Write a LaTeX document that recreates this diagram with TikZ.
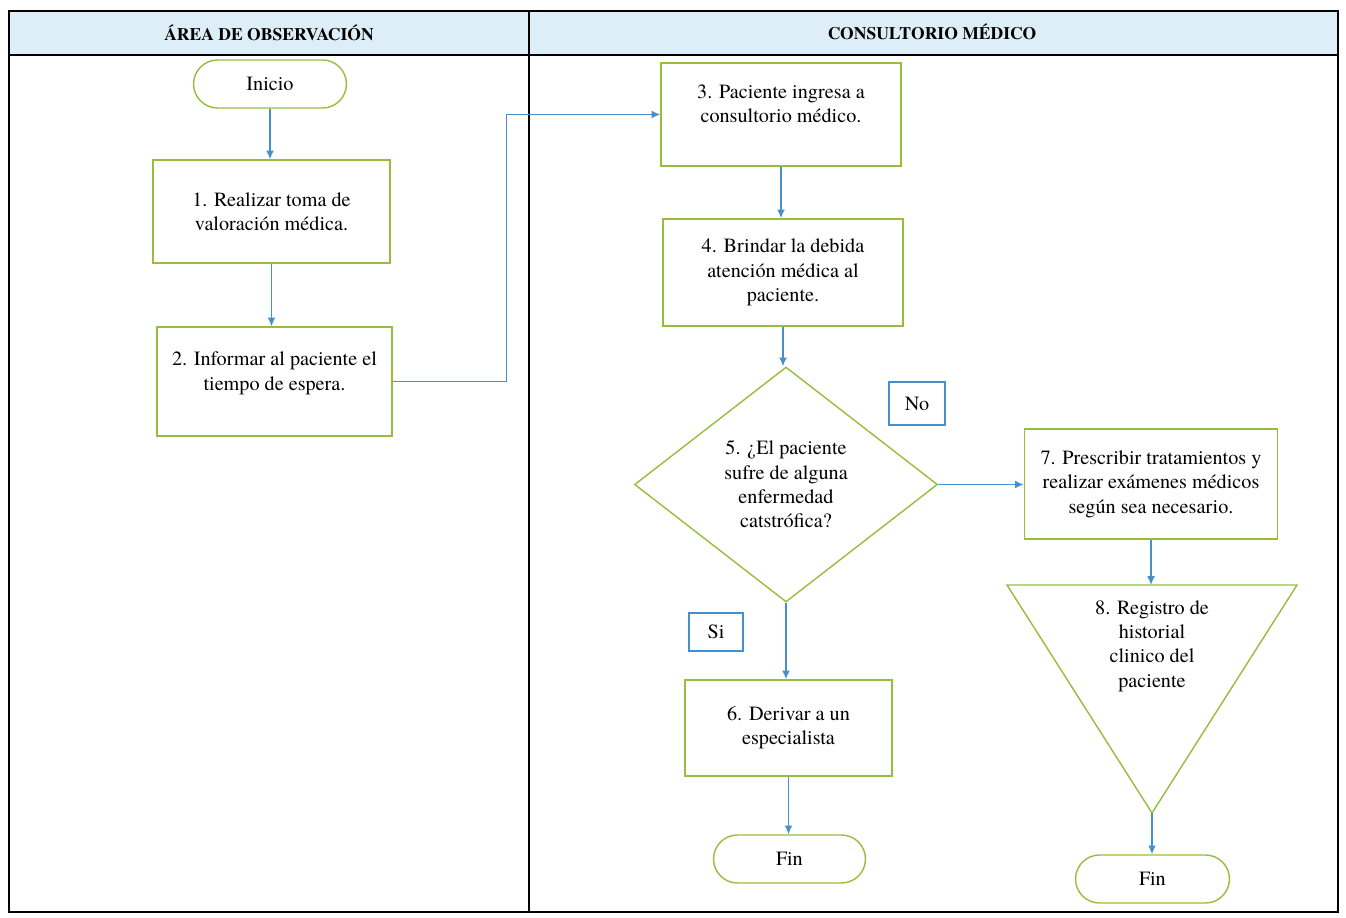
\documentclass[tikz,border=0pt]{standalone}
\usepackage{fontspec}
\setmainfont{texgyretermes}[Extension=.otf, UprightFont=*-regular, BoldFont=*-bold, ItalicFont=*-italic, BoldItalicFont=*-bolditalic]
\definecolor{myBlue}{RGB}{70,145,205}
\definecolor{myGreen}{RGB}{150,190,60}
\definecolor{myHeader}{RGB}{221,238,248}
\usepackage{tikz}
\usetikzlibrary{shapes,arrows.meta,positioning}

\begin{document}
\begin{tikzpicture}[x=0.02cm, y=-0.02cm,
        marco/.style={draw=black, line width=1.4pt},
        proc/.style={draw=myGreen, line width=0.8pt, align=center, inner sep=2pt, font=\fontsize{11.5}{13.9}\selectfont},
        term/.style={proc, rounded rectangle, minimum width=3.2cm, minimum height=0.96cm},
        etiqueta/.style={draw=myBlue, line width=0.8pt, font=\fontsize{11.5}{13.9}\selectfont},
        flecha/.style={draw=myBlue, line width=0.8pt, -{Latex[length=5pt,width=4.5pt]}}]
                \useasboundingbox (0,0) rectangle (1346,918);

                \fill[myHeader] (9,11) rectangle (1338,55);
                \draw[marco] (9,11) rectangle (1338,912);
                \draw[marco] (9,55) -- (1338,55);
                \draw[marco] (529,11) -- (529,912);
                \node[font=\bfseries\fontsize{10}{12}\selectfont] (carril1) at (269,33) {ÁREA DE OBSERVACIÓN};
                \node[font=\bfseries\fontsize{10}{12}\selectfont] (carril2) at (932,32) {CONSULTORIO MÉDICO};

                \node[term] (inicio) at (270,84) {Inicio};
                \node[proc, minimum width=4.74cm, minimum height=2.06cm] (p1) at (271.5,211.5) {1. Realizar toma de\\valoración médica.};
                \node[proc, minimum width=4.70cm, minimum height=2.18cm] (p2) at (274.5,381.5) {2. Informar al paciente el\\tiempo de espera.\\[-6pt]\strut};
                \node[proc, minimum width=4.80cm, minimum height=2.06cm] (p3) at (781,114.5) {3. Paciente ingresa a\\consultorio médico.\\[-6pt]\strut};
                \node[proc, minimum width=4.80cm, minimum height=2.14cm] (p4) at (783,272.5) {4. Brindar la debida\\atención médica al\\paciente.};
                \node[proc, diamond, inner sep=0pt, minimum width=6.06cm, minimum height=4.70cm] (dec) at (786,484.5) {5. ¿El paciente\\sufre de alguna\\enfermedad\\catstrófica?};
                \node[etiqueta, minimum width=1.12cm, minimum height=0.86cm] (no) at (917,403.5) {No};
                \node[proc, minimum width=5.06cm, minimum height=2.20cm] (p7) at (1151,484) {7. Prescribir tratamientos y\\realizar exámenes médicos\\según sea necesario.};
                \node[etiqueta, minimum width=1.08cm, minimum height=0.76cm] (si) at (716,632) {Si};
                \node[proc, minimum width=4.14cm, minimum height=1.92cm] (p6) at (788.5,728) {6. Derivar a un\\especialista};
                \node[term, minimum width=3.18cm] (fin1) at (789.5,859) {Fin};

                \coordinate (triizq) at (1007,585);
                \coordinate (trider) at (1297,585);
                \coordinate (tritop) at (1152,585);
                \coordinate (tripunta) at (1152,813);
                \draw[myGreen, line width=0.8pt] (triizq) -- (trider) -- (tripunta) -- cycle;
                \node[align=center, font=\fontsize{11.5}{13.9}\selectfont] (p8) at (1152,646) {8. Registro de\\historial\\clinico del\\paciente};
                \node[term, minimum width=3.22cm] (fin2) at (1152.5,879) {Fin};

                \draw[flecha] (inicio.south) -- (inicio.south |- p1.north);
                \draw[flecha] (p1.south) -- (p1.south |- p2.north);
                \draw[flecha] (p2.east) -- ++(114,0) |- (p3.west);
                \draw[flecha] (p3.south) -- (p3.south |- p4.north);
                \draw[flecha] (p4.south) -- (p4.south |- dec.north);
                \draw[flecha] (dec.east) -- (dec.east -| p7.west);
                \draw[flecha] (dec.south) -- (dec.south |- p6.north);
                \draw[flecha] (p6.south) -- (p6.south |- fin1.north);
                \draw[flecha] (p7.south) -- (p7.south |- tritop);
                \draw[flecha] (tripunta) -- (tripunta |- fin2.north);
\end{tikzpicture}
\end{document}
